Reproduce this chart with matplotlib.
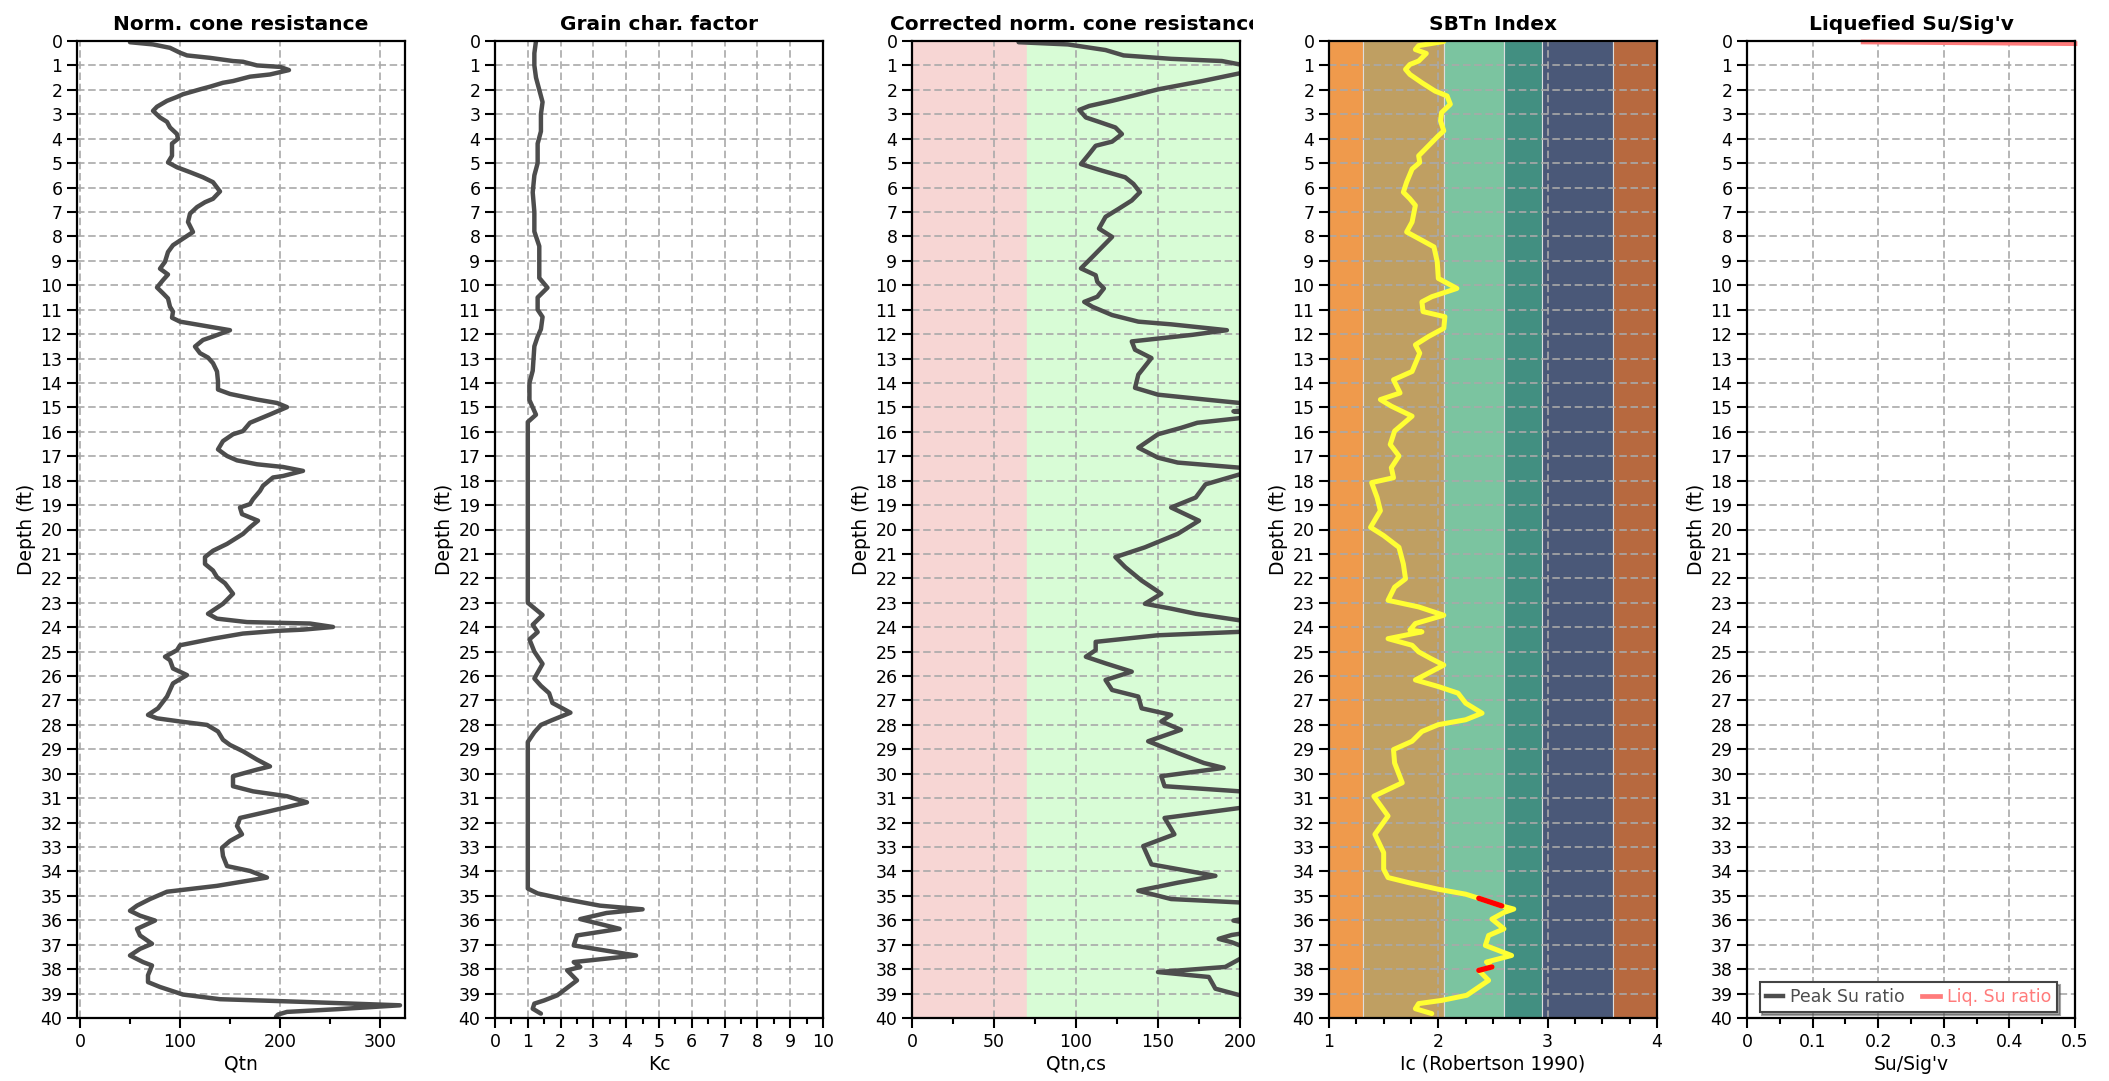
import numpy as np
import matplotlib
matplotlib.use('Agg')
import matplotlib.pyplot as plt
from matplotlib.transforms import Bbox

plt.rcParams['font.family'] = ['DejaVu Sans']

# ---- normalised cone resistance Qtn
qtn_depth = [0.05, 0.14, 0.28, 0.48, 0.59, 0.69, 0.82, 0.85, 1.0, 1.06, 1.19, 1.37, 1.46, 1.64, 1.71, 1.87, 1.98,
             2.18, 2.29, 2.45, 2.69, 2.86, 3.13, 3.31, 3.54, 3.81, 4.0, 4.2, 4.7, 4.97, 5.17, 5.37, 5.58, 5.78,
             6.16, 6.46, 6.6, 6.8, 7.07, 7.41, 7.82, 8.09, 8.36, 8.64, 9.04, 9.32, 9.56, 9.79, 10.09, 10.33,
             10.54, 10.88, 11.08, 11.33, 11.49, 11.65, 11.84, 12.1, 12.24, 12.51, 12.78, 12.96, 13.19, 13.53,
             13.94, 14.27, 14.45, 14.68, 14.82, 14.99, 15.29, 15.63, 15.97, 16.1, 16.38, 16.72, 16.99, 17.17,
             17.33, 17.44, 17.6, 17.81, 17.87, 18.21, 18.42, 18.76, 18.96, 19.1, 19.37, 19.64, 19.91, 20.18,
             20.59, 20.87, 21.13, 21.41, 21.68, 21.95, 22.2, 22.63, 23.04, 23.34, 23.45, 23.65, 23.79, 23.85,
             23.99, 24.1, 24.15, 24.26, 24.47, 24.74, 24.94, 25.21, 25.35, 25.69, 25.96, 26.3, 26.84, 27.32,
             27.59, 27.73, 27.86, 28.0, 28.27, 28.61, 28.82, 29.08, 29.42, 29.7, 29.83, 30.1, 30.51, 30.72,
             30.92, 31.17, 31.53, 31.81, 32.14, 32.48, 32.75, 33.03, 33.37, 33.78, 33.98, 34.25, 34.59, 34.83,
             35.13, 35.4, 35.61, 35.81, 36.01, 36.35, 36.62, 36.96, 37.17, 37.44, 37.71, 37.85, 38.25, 38.53,
             38.73, 39.04, 39.23, 39.34, 39.48, 39.64, 39.75, 39.86, 39.95]
qtn = [50, 73, 90, 100, 107, 130, 153, 163, 177, 200, 209, 190, 170, 153, 143, 130, 120,
       103, 97, 87, 77, 73, 80, 87, 90, 97, 98, 92, 92, 88, 97, 110, 123, 133,
       140, 133, 125, 117, 110, 108, 113, 103, 93, 88, 85, 80, 88, 83, 77, 83,
       88, 90, 93, 92, 100, 123, 150, 133, 123, 115, 120, 128, 133, 137,
       138, 138, 150, 177, 197, 207, 190, 170, 163, 153, 143, 138, 147, 157,
       177, 203, 223, 203, 193, 183, 180, 173, 170, 160, 162, 178, 170, 163,
       147, 133, 125, 125, 133, 137, 145, 153, 143, 132, 128, 137, 167, 230,
       253, 223, 197, 163, 133, 100, 97, 85, 90, 93, 107, 93, 87, 78,
       68, 77, 100, 127, 138, 143, 150, 163, 177, 190, 177, 153, 153, 173,
       207, 227, 190, 160, 157, 162, 150, 142, 143, 147, 170, 187, 137, 87,
       70, 57, 50, 60, 75, 57, 60, 72, 60, 50, 63, 72, 68, 68,
       80, 103, 140, 223, 320, 257, 207, 198, 196]

# ---- grain characteristic factor Kc
kc_depth = [0.0, 0.5, 1.0, 1.5, 2.0, 2.5, 3.0, 3.7, 4.2, 5.0, 5.5, 6.2, 7.0, 7.8, 8.4, 9.0, 9.7, 10.1, 10.5,
            11.0, 11.3, 11.8, 12.1, 12.5, 13.5, 14.0, 14.7, 15.3, 15.6, 23.0, 23.5, 23.9, 24.2, 24.5, 25.0,
            25.5, 26.1, 26.4, 26.7, 27.1, 27.5, 27.8, 28.0, 28.3, 28.7, 34.7, 34.9, 35.1, 35.4, 35.55, 35.7,
            35.95, 36.35, 36.62, 37.03, 37.44, 37.71, 37.91, 38.05, 38.46, 39.07, 39.28, 39.41, 39.62, 39.82]
kc = [1.25, 1.2, 1.2, 1.25, 1.35, 1.45, 1.4, 1.4, 1.3, 1.3, 1.2, 1.15, 1.2, 1.2, 1.35, 1.35, 1.35, 1.6, 1.3,
      1.3, 1.45, 1.4, 1.3, 1.2, 1.15, 1.05, 1.05, 1.25, 1.0, 1.0, 1.45, 1.15, 1.3, 1.05, 1.2,
      1.45, 1.2, 1.4, 1.65, 1.75, 2.3, 1.75, 1.4, 1.2, 1.0, 1.0, 1.3, 2.0, 3.2, 4.5, 3.4,
      2.6, 3.8, 2.5, 2.4, 4.3, 2.4, 2.6, 2.2, 2.5, 1.9, 1.5, 1.2, 1.15, 1.4]

# ---- corrected normalised cone resistance Qtn,cs
qcs_depth = [0.05, 0.14, 0.37, 0.59, 0.73, 0.82, 1.0, 1.19, 1.32, 1.64, 1.98, 2.22, 2.45, 2.66, 2.82, 3.13,
             3.31, 3.54, 3.81, 4.12, 4.29, 4.63, 5.04, 5.31, 5.58, 5.85, 6.19, 6.53, 6.87, 7.2, 7.68, 8.02,
             8.43, 8.84, 9.31, 9.59, 9.86, 10.13, 10.47, 10.68, 10.88, 11.22, 11.49, 11.6, 11.84, 12.03,
             12.3, 12.64, 12.98, 13.66, 14.2, 14.48, 14.68, 14.82, 14.95, 15.1, 15.16, 15.22, 15.3, 15.44,
             15.63, 15.84, 16.1, 16.65, 17.06, 17.26, 17.47, 17.6, 17.74, 18.15, 18.69, 19.1, 19.64, 20.18,
             20.73, 21.13, 21.54, 22.09, 22.63, 23.04, 23.24, 23.45, 23.72, 23.95, 24.19, 24.33, 24.6, 24.94,
             25.21, 25.48, 25.82, 26.16, 26.57, 26.84, 27.32, 27.59, 27.86, 28.2, 28.67, 29.15, 29.56, 29.76,
             30.1, 30.51, 30.72, 31.1, 31.4, 31.81, 32.48, 32.96, 33.71, 34.18, 34.46, 34.79, 35.13, 35.27,
             35.55, 35.85, 36.01, 36.12, 36.35, 36.6, 36.76, 36.9, 37.03, 37.3, 37.58, 37.91, 38.12, 38.32,
             38.8, 39.07, 39.3, 39.5, 39.8, 40.0]
qcs = [65, 95, 118, 129, 158, 189, 203, 265, 200, 177, 150, 136, 122, 108, 102, 106,
       114, 124, 128, 122, 112, 108, 103, 116, 130, 135, 139, 134, 126, 118, 114, 122,
       116, 110, 103, 112, 113, 117, 113, 105, 110, 122, 138, 158, 192, 171,
       134, 136, 146, 138, 136, 150, 179, 200, 215, 205, 196, 205, 215, 200,
       174, 164, 150, 138, 150, 162, 200, 225, 200, 179, 173, 158, 175, 162,
       142, 124, 130, 140, 152, 142, 158, 173, 200, 280, 200, 150, 112, 112,
       106, 118, 134, 118, 122, 138, 140, 158, 152, 164, 144, 162, 178, 190,
       152, 154, 200, 290, 200, 154, 160, 141, 146, 185, 162, 138, 158, 200,
       240, 210, 196, 205, 220, 195, 187, 195, 200, 225, 200, 191, 150, 181,
       185, 200, 320, 450, 300, 290]

# ---- SBTn index Ic
ic_depth = [0.02, 0.19, 0.35, 0.51, 0.82, 0.96, 1.16, 1.37, 1.71, 2.05, 2.25, 2.59, 2.93, 3.27, 3.68, 3.88,
            4.29, 4.70, 4.97, 5.24, 5.78, 6.19, 6.46, 6.73, 7.41, 7.82, 8.16, 8.43, 9.04, 9.72, 10.13, 10.47,
            10.68, 11.08, 11.29, 11.76, 12.10, 12.44, 12.78, 13.53, 13.87, 14.41, 14.68, 14.95, 15.36, 15.97,
            16.52, 16.99, 17.47, 17.88, 18.08, 18.69, 19.23, 19.91, 20.25, 20.73, 21.41, 22.02, 22.36, 22.90,
            23.17, 23.51, 23.85, 24.12, 24.19, 24.47, 24.74, 25.01, 25.28, 25.55, 26.16, 26.43, 26.70, 27.11,
            27.52, 27.79, 27.99, 28.27, 28.67, 29.01, 29.56, 30.37, 30.92, 31.73, 32.48, 33.23, 33.91, 34.25,
            34.46, 34.73, 34.93, 35.10, 35.41, 35.54, 35.68, 35.95, 36.35, 36.62, 37.03, 37.44, 37.71, 37.91,
            38.05, 38.46, 39.07, 39.28, 39.41, 39.62, 39.82]
ic = [2.05, 1.82, 1.79, 1.89, 1.82, 1.74, 1.70, 1.74, 1.85, 1.97, 2.08, 2.11, 2.03, 2.02, 2.05, 2.00,
      1.91, 1.82, 1.83, 1.76, 1.71, 1.68, 1.74, 1.79, 1.76, 1.71, 1.85, 1.96, 1.99, 2.00, 2.17, 1.94,
      1.85, 1.86, 2.06, 2.05, 1.91, 1.79, 1.83, 1.76, 1.59, 1.65, 1.47, 1.57, 1.76, 1.60,
      1.56, 1.64, 1.57, 1.59, 1.39, 1.44, 1.47, 1.38, 1.50, 1.64, 1.68, 1.70, 1.60, 1.54,
      1.82, 2.05, 1.79, 1.74, 1.85, 1.54, 1.76, 1.82, 1.93, 2.05, 1.79, 2.00, 2.18, 2.25,
      2.40, 2.25, 2.00, 1.85, 1.76, 1.59, 1.60, 1.67, 1.41, 1.54, 1.42, 1.50, 1.50, 1.54,
      1.73, 2.00, 2.25, 2.37, 2.58, 2.69, 2.60, 2.49, 2.60, 2.46, 2.43, 2.67, 2.44, 2.49,
      2.37, 2.46, 2.26, 2.03, 1.82, 1.79, 1.94]
ic_red_ranges = [(35.05, 35.45), (37.88, 38.08)]

sbt_edges = [1.0, 1.31, 2.05, 2.60, 2.95, 3.60, 4.0]
sbt_colors = ['#ef9a4c', '#bf9f62', '#7bc4a0', '#428f81', '#4a5878', '#b7693f']

# ---- liquefied strength ratio
liq_depth = [0.04, 0.11]
liq_su = [0.177, 0.5]
peak_depth = []
peak_su = []

DARK = '#4d4d4d'


def setup(ax, title, xlabel, xlim, major, minor):
    ax.set_ylim(40, 0)
    ax.set_xlim(*xlim)
    ax.set_yticks(range(0, 41))
    ax.set_xticks(major)
    ax.set_xticks(minor, minor=True)
    ax.grid(True, which='major', color='#a9a9a9', linestyle=(0, (4.5, 2.2)), linewidth=1.2)
    ax.tick_params(which='major', direction='out', length=7, width=1.5, labelsize=12.5)
    ax.tick_params(which='minor', direction='out', length=4, width=1.5)
    for s in ax.spines.values():
        s.set_linewidth(1.6)
    ax.set_title(title, fontsize=14.5, fontweight='bold', pad=8)
    ax.set_xlabel(xlabel, fontsize=13.5, labelpad=3)
    ax.set_ylabel('Depth (ft)', fontsize=13.5, labelpad=3)


fig = plt.figure(figsize=(21.09, 10.81), dpi=100)
lefts = [77, 495, 912, 1329, 1747]
axes = [fig.add_axes([l / 2109, 63 / 1081, 328 / 2109, 977 / 1081]) for l in lefts]
ax1, ax2, ax3, ax4, ax5 = axes

# panel 1
setup(ax1, 'Norm. cone resistance', 'Qtn', (-3, 325), [0, 100, 200, 300], np.arange(50, 325, 50))
ax1.plot(qtn, qtn_depth, color=DARK, lw=3.2, solid_joinstyle='round', solid_capstyle='round')

# panel 2
setup(ax2, 'Grain char. factor', 'Kc', (0, 10), range(0, 11), np.arange(0.5, 10, 1.0))
ax2.plot(kc, kc_depth, color=DARK, lw=3.2, solid_joinstyle='round', solid_capstyle='round')

# panel 3
setup(ax3, 'Corrected norm. cone resistance', 'Qtn,cs', (0, 200), range(0, 201, 50), range(25, 200, 50))
ax3.axvspan(0, 70, color='#f7d6d4', zorder=0)
ax3.axvspan(70, 200, color='#d8fcd6', zorder=0)
ax3.plot(qcs, qcs_depth, color=DARK, lw=3.2, solid_joinstyle='round', solid_capstyle='round')
# title is cut off at the panel edge in the original
ax3.title.set_clip_box(Bbox([[850, 1000], [1253, 1081]]))
ax3.title.set_clip_on(True)

# panel 4
setup(ax4, 'SBTn Index', 'Ic (Robertson 1990)', (1, 4), [1, 2, 3, 4], np.arange(1.25, 4, 0.25))
for i, c in enumerate(sbt_colors):
    ax4.axvspan(sbt_edges[i], sbt_edges[i + 1], facecolor=c, edgecolor='#dddddd', lw=0.8, zorder=0)
ic_arr = np.array(ic)
icd = np.array(ic_depth)
red = np.zeros(len(icd), bool)
for a, b in ic_red_ranges:
    red |= (icd >= a) & (icd <= b)
ax4.plot(ic_arr, icd, color='#ffff33', lw=3.6, solid_joinstyle='round', solid_capstyle='round')
ax4.plot(np.where(red, ic_arr, np.nan), icd, color='#ff0000', lw=3.8, solid_capstyle='round')

# panel 5
setup(ax5, "Liquefied Su/Sig'v", "Su/Sig'v", (0, 0.5), np.arange(0, 0.51, 0.1), np.arange(0.05, 0.5, 0.1))
ax5.set_xticklabels(['0', '0.1', '0.2', '0.3', '0.4', '0.5'])
ax5.plot(peak_su, peak_depth, color=DARK, lw=3.2, label='Peak Su ratio')
ax5.plot(liq_su, liq_depth, color='#ff7b7b', lw=3.4, label='Liq. Su ratio', clip_on=False)
leg = ax5.legend(loc='lower right', bbox_to_anchor=(0.945, 0.006), borderaxespad=0, ncol=2, fontsize=12.5,
                 fancybox=False, shadow=True, handlelength=1.0, handletextpad=0.4, columnspacing=1.0,
                 borderpad=0.35)
leg.get_frame().set_edgecolor('#444444')
leg.get_frame().set_linewidth(1.5)
for txt, ln in zip(leg.get_texts(), leg.get_lines()):
    txt.set_color(ln.get_color())

fig.savefig('out.png', dpi=100)
